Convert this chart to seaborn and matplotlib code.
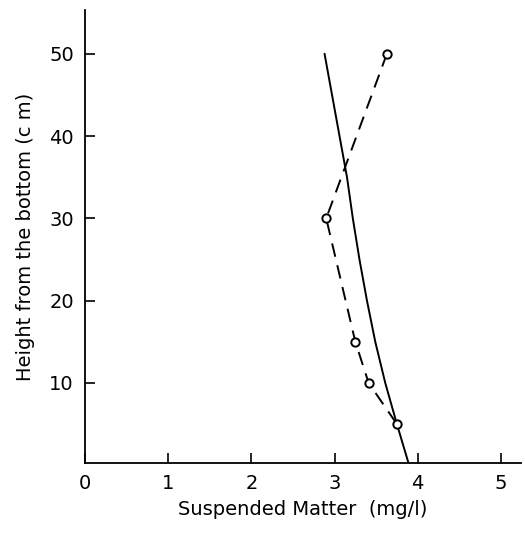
import seaborn as sns
import matplotlib.pyplot as plt
import pandas as pd

# measured points (dashed line with open circles)
meas_height = [50, 30, 15, 10, 5]
meas_matter = [3.63, 2.90, 3.25, 3.41, 3.75]

# computed profile (solid line)
calc_height = [50, 45, 40, 35, 30, 25, 20, 15, 10, 5, 0.25]
calc_matter = [2.88, 2.97, 3.06, 3.15, 3.22, 3.30, 3.39, 3.49, 3.61, 3.75, 3.89]

x_ticks = [0, 1, 2, 3, 4, 5]
y_ticks = [10, 20, 30, 40, 50]

meas = pd.DataFrame({'matter': meas_matter, 'height': meas_height})
calc = pd.DataFrame({'matter': calc_matter, 'height': calc_height})

sns.set_style('ticks')
plt.rcParams['font.family'] = ['DejaVu Sans']
plt.rcParams['text.color'] = 'black'
plt.rcParams['axes.labelcolor'] = 'black'
plt.rcParams['xtick.color'] = 'black'
plt.rcParams['ytick.color'] = 'black'
plt.rcParams['axes.edgecolor'] = 'black'

fig = plt.figure(figsize=(5.25, 5.33), dpi=100)
ax = fig.add_axes([0.162, 0.131, 0.83, 0.85])

sns.lineplot(data=calc, x='matter', y='height', sort=False, estimator=None,
             color='black', linewidth=1.4, ax=ax)
sns.lineplot(data=meas, x='matter', y='height', sort=False, estimator=None,
             color='black', linewidth=1.4, dashes=False, ax=ax,
             linestyle=(0, (7, 4.5)), marker='o', markersize=6,
             markerfacecolor='white', markeredgecolor='black', markeredgewidth=1.4)

ax.set_xlim(0, 5.24)
ax.set_ylim(0.25, 55.3)
ax.set_xticks(x_ticks)
ax.set_yticks(y_ticks)
ax.tick_params(direction='in', length=7, width=1.2, labelsize=14, pad=8)
sns.despine(ax=ax)
for s in ['left', 'bottom']:
    ax.spines[s].set_linewidth(1.3)

ax.set_xlabel('Suspended Matter  (mg/l)', fontsize=14, labelpad=5)
ax.set_ylabel('Height from the bottom (c m)', fontsize=14, labelpad=10)

fig.savefig('out.png', dpi=100)
